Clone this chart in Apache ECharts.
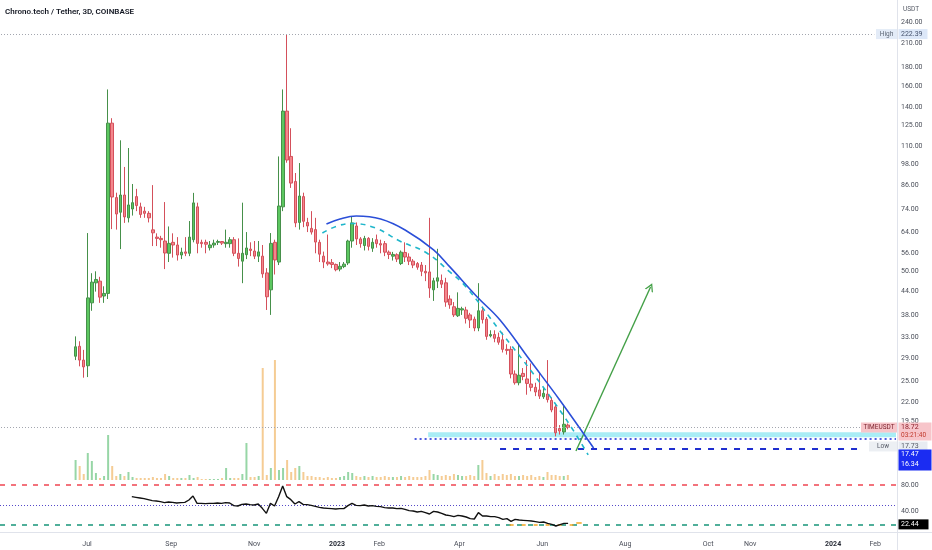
<!DOCTYPE html>
<html><head><meta charset="utf-8">
<script src="https://cdn.jsdelivr.net/npm/echarts@6/dist/echarts.min.js"></script>
<style>html,body{margin:0;padding:0;background:#fff}#c{width:932px;height:550px}</style>
</head><body><div id="c"></div>
<script>
// ---------------- DATA ----------------
const firstCandleDate = '2022-06-22';
const candleStepDays = 3;
const opens = [29.3,31.2,28.6,27.6,41.0,46.5,47.0,42.8,43.5,127,
 79.5,72.5,80.8,70.0,74.0,80.0,75.0,73.0,72.0,64.9,
 62.0,61.5,60.5,56.0,60.0,59.0,55.4,56.5,56.0,61.0,
 75.0,60.0,60.0,58.0,59.0,60.0,60.3,59.5,59.5,61.0,
 56.0,53.3,55.5,57.5,56.8,55.0,55.0,49.5,44.5,60.0,
 53.0,75.0,137,103,88.0,68.0,80.0,68.0,65.5,65.0,
 60.0,55.0,53.0,52.8,52.2,50.7,51.5,52.7,60.5,66.5,
 61.3,58.8,61.5,57.8,61.0,59.5,59.5,56.4,55.0,55.5,
 52.5,56.3,54.7,53.3,52.5,52.0,50.0,49.8,44.5,47.0,
 47.2,46.5,42.0,40.0,37.8,39.2,39.2,38.0,37.0,35.0,
 39.0,37.0,33.3,33.6,33.0,32.5,30.6,30.6,26.2,24.8,
 26.3,25.4,24.6,24.1,23.7,22.7,23.1,22.2,21.3,18.6,
 18.2,19.0];
const closes = [31.1,28.6,27.4,42.3,46.7,47.5,42.5,43.5,127,79.8,
 71.7,80.8,70.4,75.9,77.0,75.6,71.5,72.0,70.0,63.7,
 61.5,61.0,56.1,59.6,59.0,55.4,56.4,56.0,62.0,76.9,
 59.6,59.5,59.3,59.0,59.7,60.3,59.7,60.0,61.0,56.0,
 54.2,56.0,57.9,57.0,55.0,56.5,49.2,42.6,59.6,53.7,
 75.4,137,100.7,87.1,67.8,80.3,68.5,66.5,64.0,60.1,
 55.7,53.0,52.4,52.2,50.5,51.6,52.3,60.5,67.8,61.3,
 59.5,61.5,58.5,60.0,59.5,59.0,56.4,55.6,55.6,54.0,
 56.4,54.7,53.3,52.0,51.3,50.0,49.5,45.0,47.1,48.0,
 46.1,41.2,40.5,38.0,39.6,39.5,37.2,36.8,35.0,39.0,
 36.9,33.2,33.6,32.8,32.0,30.6,30.4,26.2,24.8,26.0,
 25.8,24.7,24.1,23.4,22.8,23.2,22.3,20.9,18.1,18.3,
 19.1,18.72];
const lows = [28.6,27.5,25.6,25.7,39.0,44.0,41.0,41.0,42.0,65.2,
 65.0,57.5,67.8,68.0,71.0,73.0,70.0,70.0,68.0,58.6,
 58.6,58.0,50.7,53.0,54.5,53.5,54.0,55.0,55.0,60.0,
 56.0,58.0,56.0,57.0,58.0,59.0,59.0,58.0,58.0,55.0,
 51.5,46.4,54.0,55.0,54.0,53.0,48.0,39.2,38.0,49.0,
 52.0,73.0,99.0,84.5,66.0,65.0,66.0,64.0,63.0,56.0,
 53.0,51.0,51.8,51.0,50.0,50.0,51.0,52.0,58.0,59.0,
 58.0,57.0,57.0,56.5,58.0,56.0,55.0,54.0,53.5,53.0,
 52.0,53.0,52.0,51.0,50.5,48.5,47.0,42.3,41.5,45.0,
 45.0,40.0,39.5,37.5,37.5,38.0,36.0,35.0,34.3,34.3,
 36.0,32.5,33.0,32.0,31.5,30.0,29.6,25.5,24.5,24.4,
 25.2,23.0,23.5,22.8,22.4,22.4,21.9,20.6,17.7,17.9,
 17.9,18.5];
const highs = [33.2,32.2,30.5,63.6,49.4,50.0,48.3,45.5,157,131,
 82.0,114,96.4,108.6,86.6,84.0,77.0,75.0,73.0,86.0,
 63.5,62.5,77.3,66.3,63.5,62.0,58.0,62.0,68.6,81.9,
 77.0,61.0,61.0,60.5,61.0,61.0,60.5,65.0,62.0,62.0,
 61.5,77.0,64.0,60.0,60.5,60.5,59.0,51.0,63.6,61.0,
 103,157,222.39,123,92.8,98.8,82.0,70.0,73.0,70.0,
 61.0,56.6,63.0,54.0,52.5,53.0,53.0,61.0,70.6,68.0,
 62.0,62.5,62.0,61.6,63.0,61.0,60.5,57.0,56.5,56.0,
 57.0,60.0,56.0,54.0,53.0,53.0,52.0,70.0,48.0,57.6,
 49.0,48.0,43.0,41.2,43.8,40.0,40.0,38.5,37.6,46.4,
 40.0,37.5,34.5,34.5,34.0,34.0,31.6,31.2,26.8,31.6,
 27.2,28.6,28.0,24.8,26.5,24.0,28.6,22.6,21.6,19.0,
 21.6,19.2];
const volumes = [20,14,6,27,19,7,2,4,45,14,
 4,6,4,8,3,2,2,2,2,3,
 2,2,6,4,2,2,2,2,5,2,
 3,1,1,1,1,1,2,12,2,2,
 2,6,37,3,3,4,112,5,12,120,
 10,12,20,8,12,14,8,4,4,3,
 3,2,3,2,2,3,4,8,7,4,
 3,4,3,4,3,3,4,3,3,3,
 4,3,4,3,3,3,4,10,6,5,
 4,5,4,6,5,4,4,5,4,15,
 20,7,4,6,4,6,5,6,4,4,
 5,4,5,3,4,3,8,5,5,4,
 4,5];
const rsiStartIndex = 14;
const rsiValues = [62.5,61.5,60.5,59.5,58.0,56.5,56.0,55.0,53.5,54.5,
 54.0,53.0,53.5,54.0,57.5,63.5,52.5,52.5,52.0,52.5,
 52.5,53.0,52.5,53.5,53.0,49.0,48.5,51.0,51.5,50.5,
 50.0,51.5,45.0,37.5,52.5,48.5,62.5,78.5,62.5,58.0,
 51.5,55.0,51.0,50.5,49.5,48.0,46.5,45.5,45.0,44.5,
 44.0,44.5,44.5,49.0,52.5,49.5,49.0,50.0,48.5,49.0,
 48.0,47.5,46.0,45.5,45.5,44.5,45.0,43.5,41.5,41.0,
 39.5,40.5,38.5,36.5,40.5,39.5,37.5,35.0,34.0,32.5,
 34.5,33.5,32.0,29.5,29.0,38.5,33.5,33.5,32.5,32.5,
 31.0,28.5,29.5,25.5,28.5,27.5,27.0,26.5,26.0,25.0,
 24.0,24.5,22.5,21.0,18.5,20.5,22.5,22.44];
const priceTicks = [240,210,180,160,140,125,110,98,86,74,64,56,50,44,38,33,29,25,22,19.5];
const rsiTicks = [80,40];
const rsiLevels = [80,50,20];
const tickDates = ['2022-07-01','2022-09-01','2022-11-01','2023-01-01','2023-02-01','2023-04-01','2023-06-01','2023-08-01','2023-10-01','2023-11-01','2024-01-01','2024-02-01'];
const tickLabels = ['Jul','Sep','Nov','2023','Feb','Apr','Jun','Aug','Oct','Nov','2024','Feb'];
const viewStart = '2022-04-28', viewEnd = '2024-02-17';
const blueArc = [['2022-12-24',67.35],['2023-01-03',69.5],['2023-01-15',70.8],['2023-02-02',69.5],['2023-02-20',64.85],['2023-03-13',57.2],['2023-03-25',51.4],['2023-04-14',42.6],['2023-05-01',36.8],['2023-05-23',28.6],['2023-06-14',22.25],['2023-07-09',16.45]];
const cyanArc = [['2022-12-21',63.65],['2023-01-01',66.5],['2023-01-12',67.55],['2023-01-29',65.7],['2023-02-16',60.5],['2023-03-08',56.1],['2023-03-25',49.8],['2023-04-06',45.3],['2023-05-01',34.35],['2023-05-25',26.4],['2023-06-19',19.63],['2023-07-05',15.75]];
const greenArrow = [['2023-06-26',16.15],['2023-08-20',45.3]];
const highPrice = 222.39, lastPrice = 18.72, lowPrice = 17.73, level1 = 17.47, level2 = 16.34, rsiLast = 22.44;
const zoneLow = 17.6, zoneHigh = 18.15;
const highLineEnd = '2024-02-01', lastLineEnd = '2024-01-22';
const level1Start = '2023-02-27', zoneStart = '2023-03-09', level2Start = '2023-05-01', level2End = '2024-01-24';
const orangeMarks = [[['2023-05-08',20.5],['2023-06-24',20.5]],[['2023-06-26',23],['2023-06-30',23]]];

// ---------------- BUILD ----------------
const DAY = 86400000;
const ts = s => Date.parse(s + 'T00:00:00Z');
const xMin = ts(viewStart), xMax = ts(viewEnd);
const firstTs = ts(firstCandleDate);
const candleTimes = opens.map((_, i) => firstTs + i * candleStepDays * DAY);
const UPV = '#97d6a6', DNV = '#f5cc94';
const candleData = opens.map((o, i) => [candleTimes[i], o, closes[i], lows[i], highs[i]]);
const volumeData = volumes.map((v, i) => ({value: [candleTimes[i], v], itemStyle: {color: closes[i] >= opens[i] ? UPV : DNV}}));
const rsiData = rsiValues.map((v, i) => [candleTimes[i + rsiStartIndex], v]);
const toPts = arr => arr.map(p => [ts(p[0]), p[1]]);
const F = 'Roboto, "Liberation Sans", sans-serif';
const axisTxt = {color: '#4a4e59', fontSize: 7, fontFamily: F};

const option = {
  animation: false,
  backgroundColor: '#ffffff',
  textStyle: {fontFamily: F},
  grid: [
    {left: 0, top: 0, width: 897, height: 480},
    {left: 0, top: 477, width: 897, height: 54}
  ],
  xAxis: [
    {type: 'time', gridIndex: 0, min: xMin, max: xMax, show: false},
    {type: 'time', gridIndex: 1, min: xMin, max: xMax, show: false}
  ],
  yAxis: [
    {type: 'log', logBase: 10, gridIndex: 0, position: 'right', min: 13.45, max: 275.6,
     axisLine: {show: false}, axisTick: {show: false}, splitLine: {show: false},
     axisLabel: Object.assign({customValues: priceTicks, formatter: v => Number(v).toFixed(2), margin: 4}, axisTxt)},
    {type: 'value', gridIndex: 0, min: 0, max: 480, show: false},
    {type: 'value', gridIndex: 1, position: 'right', min: 11, max: 92,
     axisLine: {show: false}, axisTick: {show: false}, splitLine: {show: false},
     axisLabel: Object.assign({customValues: rsiTicks, formatter: v => Number(v).toFixed(2), margin: 4}, axisTxt)}
  ],
  series: [
    {type: 'bar', name: 'vol', xAxisIndex: 0, yAxisIndex: 1, data: volumeData, barWidth: 2, z: 1, silent: true},
    {type: 'candlestick', name: 'price', xAxisIndex: 0, yAxisIndex: 0, data: candleData, barWidth: 3, z: 4, silent: true,
     itemStyle: {color: '#5cc760', color0: '#f4868c', borderColor: '#46904a', borderColor0: '#d4505b', borderWidth: 1},
     markArea: {silent: true, itemStyle: {color: 'rgba(64,214,232,0.45)'},
       data: [[{coord: [ts(zoneStart), zoneHigh]}, {coord: [xMax, zoneLow]}]]},
     markLine: {silent: true, symbol: ['none', 'none'], label: {show: false}, animation: false,
       data: [
         [{coord: [xMin, highPrice], lineStyle: {color: '#a3a6af', type: [1, 2], width: 1}}, {coord: [ts(highLineEnd), highPrice]}],
         [{coord: [xMin, lastPrice], lineStyle: {color: '#a3a6af', type: [1, 2], width: 1}}, {coord: [ts(lastLineEnd), lastPrice]}],
         [{coord: [ts(level1Start), level1], lineStyle: {color: '#4d5be0', type: [2, 3], width: 2}}, {coord: [xMax, level1]}],
         [{coord: [ts(level2Start), level2], lineStyle: {color: '#1f2ecf', type: [6, 7], width: 2}}, {coord: [ts(level2End), level2]}]
       ]}
    },
    {type: 'line', name: 'arc', xAxisIndex: 0, yAxisIndex: 0, data: toPts(blueArc), smooth: 0.4, symbol: 'none', z: 5, silent: true,
     lineStyle: {color: '#2b4fd8', width: 1.6}},
    {type: 'line', name: 'arc2', xAxisIndex: 0, yAxisIndex: 0, data: toPts(cyanArc), smooth: 0.4, symbol: 'none', z: 5, silent: true,
     lineStyle: {color: '#1fb6cb', width: 1.6, type: [5, 5]}},
    {type: 'line', name: 'arrow', xAxisIndex: 0, yAxisIndex: 0, data: [], z: 6, silent: true,
     markLine: {silent: true, animation: false, label: {show: false},
       symbol: ['none', 'path://M0,10 L5,0 L10,10 L8.4,10 L5,3.2 L1.6,10 Z'], symbolSize: [9, 8],
       lineStyle: {color: '#43a047', width: 1.4, type: 'solid'},
       data: [[{coord: [ts(greenArrow[0][0]), greenArrow[0][1]]}, {coord: [ts(greenArrow[1][0]), greenArrow[1][1]]}]]}},
    {type: 'line', name: 'rsi', xAxisIndex: 1, yAxisIndex: 2, data: rsiData, symbol: 'none', z: 5, silent: true,
     lineStyle: {color: '#111111', width: 1.4},
     markLine: {silent: true, symbol: ['none', 'none'], label: {show: false}, animation: false,
       data: [
         {yAxis: rsiLevels[0], lineStyle: {color: '#ef4652', type: [5, 6], width: 1.5}},
         {yAxis: rsiLevels[1], lineStyle: {color: '#5549c9', type: [1, 2], width: 1}},
         {yAxis: rsiLevels[2], lineStyle: {color: '#17957a', type: [5, 6], width: 1.5}},
         [{coord: [ts(orangeMarks[0][0][0]), orangeMarks[0][0][1]], lineStyle: {color: '#f5a623', type: [4, 8], width: 1.5}}, {coord: [ts(orangeMarks[0][1][0]), orangeMarks[0][1][1]]}],
         [{coord: [ts(orangeMarks[1][0][0]), orangeMarks[1][0][1]], lineStyle: {color: '#f5a623', type: 'solid', width: 1.5}}, {coord: [ts(orangeMarks[1][1][0]), orangeMarks[1][1][1]]}]
       ]}}
  ]
};

const chart = echarts.init(document.getElementById('c'), null, {renderer: 'canvas'});
chart.setOption(option);

// ---------------- LABELS / CHROME ----------------
const py = v => chart.convertToPixel({yAxisIndex: 0}, v);
const ry = v => chart.convertToPixel({yAxisIndex: 2}, v);
const px = v => chart.convertToPixel({xAxisIndex: 1}, v);
function box(x, y, w, h, fill) { return {type: 'rect', shape: {x: x, y: y, width: w, height: h}, style: {fill: fill}, z: 100, silent: true}; }
function txt(x, y, s, color, size, align, weight) {
  return {type: 'text', x: x, y: y, z: 101, silent: true,
    style: {text: s, fill: color, font: (weight || 'normal') + ' ' + (size || 7) + 'px ' + F,
      textAlign: align || 'left', align: align || 'left', textVerticalAlign: 'middle', verticalAlign: 'middle'}};
}
const yH = py(highPrice), yC = py(lastPrice), yB = py(level2), yR = ry(rsiLast);
const yL = yC + 19;
const g = [
  {type: 'line', shape: {x1: 897.5, y1: 0, x2: 897.5, y2: 550}, style: {stroke: '#e0e3eb', lineWidth: 1}, z: 90, silent: true},
  {type: 'line', shape: {x1: 0, y1: 532.5, x2: 932, y2: 532.5}, style: {stroke: '#e0e3eb', lineWidth: 1}, z: 90, silent: true},
  txt(5, 12, 'Chrono.tech / Tether, 3D, COINBASE', '#131722', 8, 'left', 600),
  txt(903, 9, 'USDT', '#555a66', 6.5),
  box(876, yH - 5, 21, 10, '#e3ebf7'), txt(886.5, yH, 'High', '#5d6675', 6.5, 'center'),
  box(898.5, yH - 5, 29, 10, '#dce7f8'), txt(901, yH, highPrice.toFixed(2), '#45526d', 7),
  box(861, yC - 5, 36, 10, '#f7c5ca'), txt(879, yC, 'TIMEUSDT', '#7a1f2a', 6.5, 'center'),
  box(898.5, yC - 5, 33, 18, '#f7c5ca'), txt(901, yC, lastPrice.toFixed(2), '#8c1c27', 7), txt(901, yC + 8, '03:21:40', '#c0392b', 6.5),
  box(869, yL - 5, 28, 10, '#eceff3'), txt(883, yL, 'Low', '#555a66', 6.5, 'center'),
  box(898.5, yL - 5, 29, 10, '#e8ecf2'), txt(901, yL, lowPrice.toFixed(2), '#555a66', 7),
  box(898.5, yB + 0.5, 33, 21, '#1b2cf2'), txt(901, yB + 5.5, level1.toFixed(2), '#ffffff', 7), txt(901, yB + 15.5, level2.toFixed(2), '#ffffff', 7),
  box(898.5, yR - 4, 30, 10, '#000000'), txt(901, yR + 1, rsiLast.toFixed(2), '#ffffff', 7)
];
tickDates.forEach((d, i) => {
  const isYear = /^\d{4}$/.test(tickLabels[i]);
  g.push(txt(px(ts(d)), 544, tickLabels[i], isYear ? '#2a2e39' : '#4a4e59', 7, 'center', isYear ? 'bold' : 'normal'));
});
chart.setOption({graphic: g});
</script>
</body></html>
